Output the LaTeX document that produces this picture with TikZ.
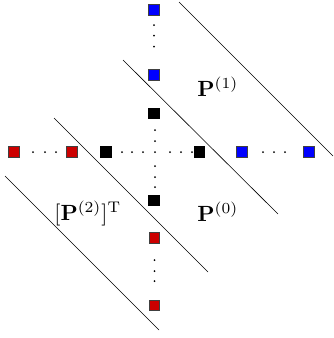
\documentclass[tikz,border=0pt]{standalone}
\begin{document}
\begin{tikzpicture}[x=1pt,y=-1pt,
  sq/.style={draw=black!75, line width=0.6pt, minimum size=10.5pt, inner sep=0pt, outer sep=0pt},
  redsq/.style={sq, fill=red!80!black},
  bluesq/.style={sq, fill=blue},
  blksq/.style={sq, fill=black, draw=black},
  diag/.style={line width=0.6pt, black},
  lab/.style={scale=2.2, anchor=base west, inner sep=0pt}]
\useasboundingbox (0,0) rectangle (333,338);
% squares
\node[bluesq] (b1) at (154,10) {};
\node[bluesq] (b2) at (154,75) {};
\node[blksq] (k1) at (154,113.5) {};
\node[blksq] (k2) at (106,152) {};
\node[blksq] (k3) at (199.5,152) {};
\node[blksq] (k4) at (154,200.5) {};
\node[bluesq] (b3) at (242,152) {};
\node[bluesq] (b4) at (309,152) {};
\node[redsq] (r1) at (14,152) {};
\node[redsq] (r2) at (72,152) {};
\node[redsq] (r3) at (154.5,238) {};
\node[redsq] (r4) at (154.5,305.5) {};
% dots
\foreach \y in {25,35.5,46.5} \fill (154,\y) circle (1pt);
\foreach \y in {260,271,281} \fill (154.5,\y) circle (1pt);
\foreach \x in {33,45,56} \fill (\x,152) circle (1pt);
\foreach \x in {263,274,285} \fill (\x,152) circle (1pt);
\foreach \x in {122,132,143,155,170,181,192} \fill (\x,152) circle (1pt);
\foreach \y in {130,141,166,177,187} \fill (155,\y) circle (1pt);
% diagonal lines
\coordinate (l1a) at (179,2);   \coordinate (l1b) at (333,156);
\coordinate (l2a) at (123,60);  \coordinate (l2b) at (278,214);
\coordinate (l3a) at (54,118);  \coordinate (l3b) at (208,272);
\coordinate (l4a) at (5,176);   \coordinate (l4b) at (159,330);
\draw[diag] (l1a) -- (l1b);
\draw[diag] (l2a) -- (l2b);
\draw[diag] (l3a) -- (l3b);
\draw[diag] (l4a) -- (l4b);
% labels
\node[lab] (p1) at (197,96) {$\mathbf{P}^{(1)}$};
\node[lab] (p0) at (197,221) {$\mathbf{P}^{(0)}$};
\node[lab] (p2) at (54,220) {$[\mathbf{P}^{(2)}]^{\mathrm{T}}$};
\end{tikzpicture}
\end{document}
